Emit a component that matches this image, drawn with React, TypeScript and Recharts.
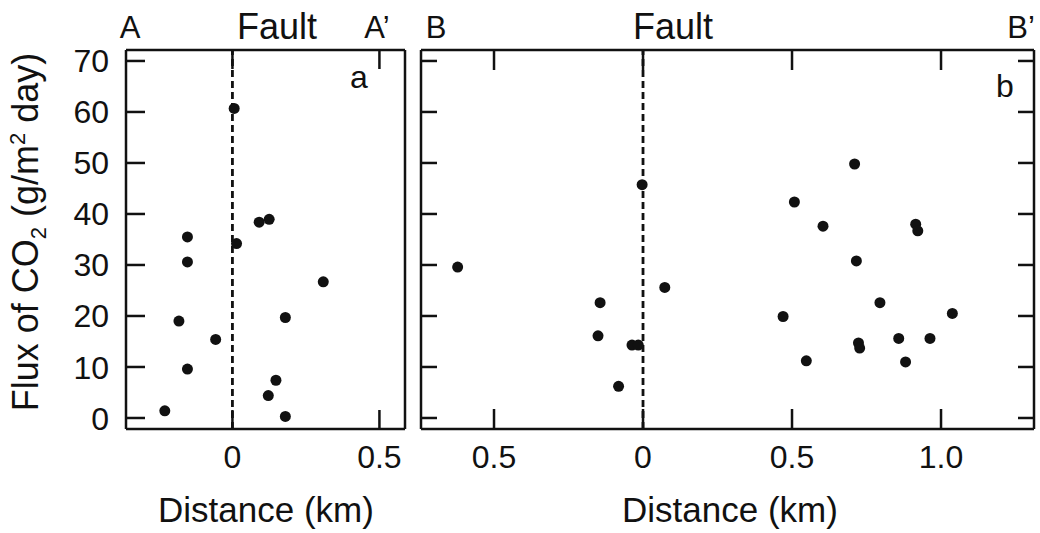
import React from 'react';
import { ScatterChart, Scatter, XAxis, YAxis, ReferenceLine } from 'recharts';

// ---- data ----
const fluxTicks = [0, 10, 20, 30, 40, 50, 60, 70];
const fluxTickLabels = ['0', '10', '20', '30', '40', '50', '60', '70'];

const distTicksA = [0, 0.5];
const distTickLabelsA = ['0', '0.5'];
const distTicksB = [-0.5, 0, 0.5, 1.0];
const distTickLabelsB = ['0.5', '0', '0.5', '1.0'];

// Profile A–A'
const distA = [-0.153, -0.153, 0.091, 0.125, 0.014, 0.309, -0.182, 0.18, -0.057, -0.153, 0.148, 0.122, -0.23, 0.18, 0.006];
const fluxA = [35.5, 30.6, 38.4, 38.95, 34.2, 26.7, 19.0, 19.7, 15.4, 9.6, 7.4, 4.4, 1.4, 0.3, 60.7];

// Profile B–B'
const distB = [-0.622, -0.003, 0.508, 0.604, 0.915, 0.922, 0.716, 0.073, -0.144, 0.795, 0.47, 1.038, -0.151, -0.037, -0.016, 0.723, 0.727, 0.858, 0.963, 0.548, 0.881, -0.082, 0.71];
const fluxB = [29.6, 45.75, 42.35, 37.6, 38.0, 36.7, 30.8, 25.6, 22.6, 22.6, 19.9, 20.5, 16.1, 14.3, 14.3, 14.7, 13.7, 15.6, 15.6, 11.2, 11.0, 6.2, 49.8];

const domainA: [number, number] = [-0.362, 0.587];
const domainB: [number, number] = [-0.745, 1.312];
const fluxDomain: [number, number] = [-2.16, 72.15];

const dataA = distA.map((d, i) => ({ x: d, y: fluxA[i] }));
const dataB = distB.map((d, i) => ({ x: d, y: fluxB[i] }));

// ---- styling ----
const FONT = "'Liberation Sans', Arial, Helvetica, sans-serif";
const INK = '#111';
const SW = 2.5;

const makeBottomTick = (ticks: number[], labels: string[], len: number) => (props: any) => {
  const { x, y, payload } = props;
  const idx = ticks.indexOf(payload.value);
  return (
    <g>
      <line x1={x} y1={y} x2={x} y2={y - len} stroke={INK} strokeWidth={SW} />
      <text x={x} y={y + 39} textAnchor="middle" fontSize={32} fontFamily={FONT} fill={INK}>
        {idx >= 0 ? labels[idx] : ''}
      </text>
    </g>
  );
};

const makeTopTick = (len: number) => (props: any) => {
  const { x, y } = props;
  return <line x1={x} y1={y} x2={x} y2={y + len} stroke={INK} strokeWidth={SW} />;
};

const makeLeftTick = (labels: string[] | null, len: number) => (props: any) => {
  const { x, y, payload } = props;
  const idx = fluxTicks.indexOf(payload.value);
  return (
    <g>
      <line x1={x} y1={y} x2={x + len} y2={y} stroke={INK} strokeWidth={SW} />
      {labels && (
        <text x={x - 17} y={y} dy="0.36em" textAnchor="end" fontSize={32} fontFamily={FONT} fill={INK}>
          {idx >= 0 ? labels[idx] : ''}
        </text>
      )}
    </g>
  );
};

const makeRightTick = (len: number) => (props: any) => {
  const { x, y } = props;
  return <line x1={x} y1={y} x2={x - len} y2={y} stroke={INK} strokeWidth={SW} />;
};

const Dot = (props: any) => <circle cx={props.cx} cy={props.cy} r={5.5} fill={INK} />;

const axisLine = { stroke: INK, strokeWidth: SW };

export default function App() {
  const W = 1040;
  const H = 533;
  const common = { tickLine: false, tickSize: 0, tickMargin: 0, interval: 0 as const };
  return (
    <div style={{ position: 'absolute', left: 0, top: 0, width: W, height: H, background: '#fff', overflow: 'hidden' }}>
      {/* Panel a */}
      <div style={{ position: 'absolute', left: 0, top: 0 }}>
        <ScatterChart width={W} height={H} margin={{ top: 40, bottom: 94, left: 116, right: 629 }}>
          <XAxis xAxisId="b" orientation="bottom" type="number" dataKey="x" domain={domainA} ticks={distTicksA}
            height={10} axisLine={axisLine} tick={makeBottomTick(distTicksA, distTickLabelsA, 19)} {...common} allowDataOverflow />
          <XAxis xAxisId="t" orientation="top" type="number" dataKey="x" domain={domainA} ticks={distTicksA}
            height={10} axisLine={axisLine} tick={makeTopTick(19)} {...common} allowDataOverflow />
          <YAxis yAxisId="l" orientation="left" type="number" dataKey="y" domain={fluxDomain} ticks={fluxTicks}
            width={10} axisLine={axisLine} tick={makeLeftTick(fluxTickLabels, 19)} {...common} allowDataOverflow />
          <YAxis yAxisId="r" orientation="right" type="number" dataKey="y" domain={fluxDomain} ticks={fluxTicks}
            width={6} axisLine={axisLine} tick={false} {...common} allowDataOverflow />
          <ReferenceLine xAxisId="b" yAxisId="l" x={0} stroke={INK} strokeWidth={2.8} strokeDasharray="7 4" />
          <Scatter xAxisId="b" yAxisId="l" data={dataA} shape={Dot} isAnimationActive={false} />
        </ScatterChart>
      </div>
      {/* Panel b */}
      <div style={{ position: 'absolute', left: 0, top: 0 }}>
        <ScatterChart width={W} height={H} margin={{ top: 40, bottom: 94, left: 411, right: 0 }}>
          <XAxis xAxisId="b" orientation="bottom" type="number" dataKey="x" domain={domainB} ticks={distTicksB}
            height={10} axisLine={axisLine} tick={makeBottomTick(distTicksB, distTickLabelsB, 20)} {...common} allowDataOverflow />
          <XAxis xAxisId="t" orientation="top" type="number" dataKey="x" domain={domainB} ticks={distTicksB}
            height={10} axisLine={axisLine} tick={makeTopTick(20)} {...common} allowDataOverflow />
          <YAxis yAxisId="l" orientation="left" type="number" dataKey="y" domain={fluxDomain} ticks={fluxTicks}
            width={10} axisLine={axisLine} tick={makeLeftTick(null, 16)} {...common} allowDataOverflow />
          <YAxis yAxisId="r" orientation="right" type="number" dataKey="y" domain={fluxDomain} ticks={fluxTicks}
            width={6} axisLine={axisLine} tick={makeRightTick(16)} {...common} allowDataOverflow />
          <ReferenceLine xAxisId="b" yAxisId="l" x={0} stroke={INK} strokeWidth={2.8} strokeDasharray="7 4" />
          <Scatter xAxisId="b" yAxisId="l" data={dataB} shape={Dot} isAnimationActive={false} />
        </ScatterChart>
      </div>
      {/* Annotations */}
      <svg width={W} height={H} style={{ position: 'absolute', left: 0, top: 0, pointerEvents: 'none' }}
        fontFamily={FONT} fill={INK}>
        <text x={130} y={38} textAnchor="middle" fontSize={31}>A</text>
        <text x={277} y={39} textAnchor="middle" fontSize={36}>Fault</text>
        <text x={377} y={38} textAnchor="middle" fontSize={31}>A’</text>
        <text x={359} y={88} textAnchor="middle" fontSize={32}>a</text>
        <text x={436} y={38} textAnchor="middle" fontSize={31}>B</text>
        <text x={673} y={39} textAnchor="middle" fontSize={36}>Fault</text>
        <text x={1021} y={38} textAnchor="middle" fontSize={31}>B’</text>
        <text x={1005} y={97} textAnchor="middle" fontSize={32}>b</text>
        <text x={266} y={522} textAnchor="middle" fontSize={35}>Distance (km)</text>
        <text x={730} y={522} textAnchor="middle" fontSize={35}>Distance (km)</text>
        <text x={38} y={232} textAnchor="middle" fontSize={36} transform="rotate(-90 38 232)">
          Flux of CO<tspan fontSize={22} dy={8}>2</tspan>
          <tspan dy={-8}> (g/m</tspan>
          <tspan fontSize={22} dy={-13}>2</tspan>
          <tspan dy={13}> day)</tspan>
        </text>
      </svg>
    </div>
  );
}
